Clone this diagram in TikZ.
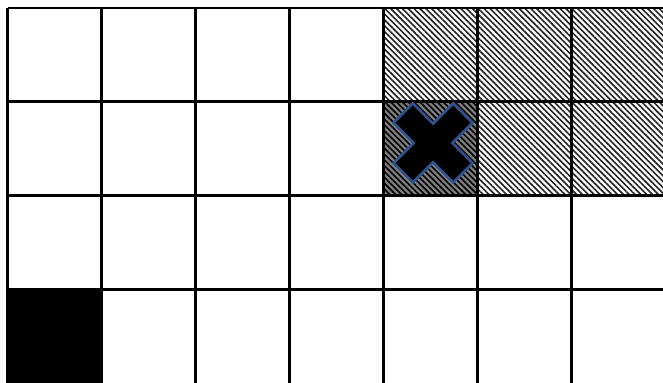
\documentclass[tikz,border=0pt]{standalone}
\usetikzlibrary{patterns.meta}
\definecolor{xblue}{HTML}{2F528F}

\begin{document}
\begin{tikzpicture}[
  x=1cm, y=-1cm,
  hatch/.style={pattern={Lines[angle=-45,distance=1.25pt,line width=0.5pt]}, pattern color=black!85},
  gridline/.style={line width=0.9pt, black},
  cross/.style={fill=black, draw=xblue, line width=0.8pt, line join=miter}
]
  \useasboundingbox (-0.08,-0.085) rectangle (6.973,3.989);

  % hatched cells, top right
  \foreach \c in {4,5,6}
    \foreach \r in {0,1}
      \fill[hatch] (\c,\r) rectangle ++(1,1);
  \fill[black!50] (4,1) rectangle (5,2);
  \fill[hatch, pattern color=black] (4,1) rectangle (5,2);

  % black cell
  \fill[black] (0,3) rectangle (1,4);

  \draw[gridline] (0,0) grid (7,4);

  % the cross
  \draw[cross, shift={(4.527,1.436)}, rotate=45]
    (0.449,0.145) -- (0.145,0.145) -- (0.145,0.449) -- (-0.145,0.449)
    -- (-0.145,0.145) -- (-0.449,0.145) -- (-0.449,-0.145) -- (-0.145,-0.145)
    -- (-0.145,-0.449) -- (0.145,-0.449) -- (0.145,-0.145) -- (0.449,-0.145) -- cycle;
\end{tikzpicture}
\end{document}
